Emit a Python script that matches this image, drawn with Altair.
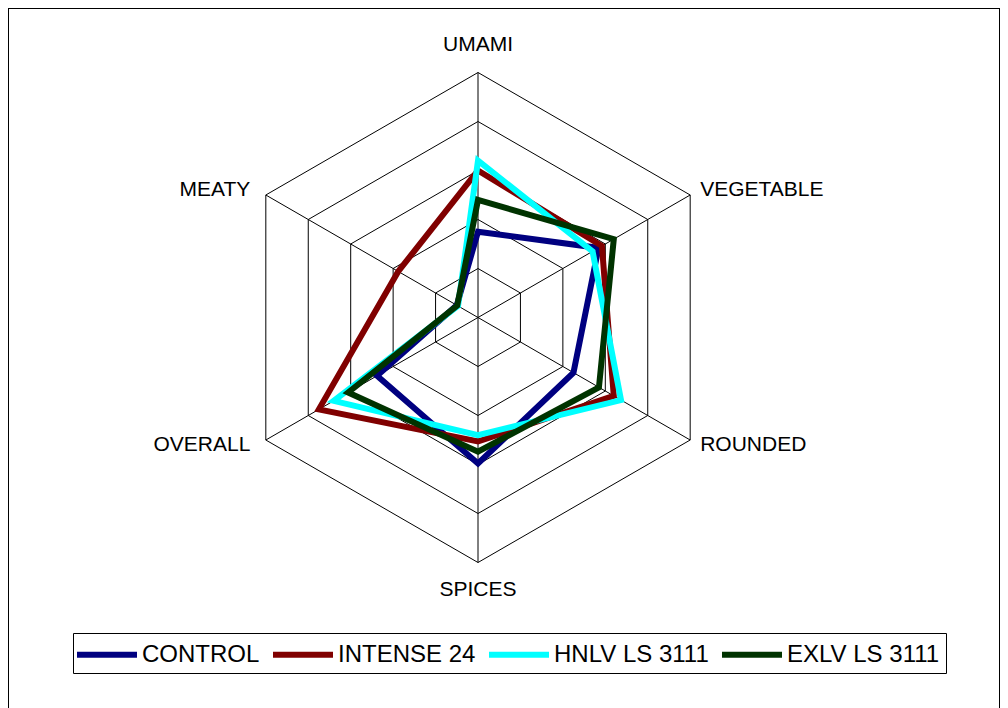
import altair as alt
import pandas as pd

# ---------------- data ----------------
categories = ["UMAMI", "VEGETABLE", "ROUNDED", "SPICES", "OVERALL", "MEATY"]
series = ["CONTROL", "INTENSE 24", "HNLV LS 3111", "EXLV LS 3111"]
control = [1.75, 2.84, 2.25, 2.98, 2.38, 0.50]
intense_24 = [3.00, 2.92, 3.20, 2.53, 3.75, 1.88]
hnlv_ls_3111 = [3.20, 2.70, 3.37, 2.40, 3.40, 0.47]
exlv_ls_3111 = [2.40, 3.20, 2.85, 2.74, 3.06, 0.49]
grid_levels = [1, 2, 3, 4, 5]
colors = ["#000080", "#800000", "#00FFFF", "#003300"]

# ---------------- tables ----------------
values = [control, intense_24, hnlv_ls_3111, exlv_ls_3111]
rows = []
for s, (name, vals) in enumerate(zip(series, values)):
    for i, (cat, v) in enumerate(zip(categories, vals)):
        rows.append({"series": name, "s": s, "idx": i, "category": cat, "value": v})
df = pd.DataFrame(rows)

grid_df = pd.DataFrame([{"ring": r, "idx": i, "value": r}
                        for r in grid_levels for i in range(len(categories))])
outer = max(grid_levels)
cat_df = pd.DataFrame({"idx": list(range(len(categories))), "category": categories})

# ---------------- geometry (scale set-up) ----------------
W, H = 992, 702          # plot area (page 8px margin)
CX, CY = 470, 309.5      # centre of radar inside the view
U = 49.0                 # pixels per unit
xs = alt.Scale(domain=[-CX / U, (W - CX) / U], zero=False, nice=False)
ys = alt.Scale(domain=[-(H - CY) / U, CY / U], zero=False, nice=False)

N = len(categories)
ang = f"PI/2 - datum.idx*2*PI/{N}"

def polar(chart, r_expr, xn="px", yn="py"):
    return chart.transform_calculate(
        ang=ang
    ).transform_calculate(
        **{xn: f"({r_expr})*cos(datum.ang)", yn: f"({r_expr})*sin(datum.ang)"}
    )

FONT = "Liberation Sans"

# grid hexagons
grid = polar(alt.Chart(grid_df), "datum.value").mark_line(
    interpolate="linear-closed", color="black", strokeWidth=1
).encode(
    x=alt.X("px:Q", scale=xs, axis=None),
    y=alt.Y("py:Q", scale=ys, axis=None),
    detail="ring:N",
    order="idx:Q",
)

# spokes
spokes = polar(alt.Chart(cat_df), str(outer), "ex", "ey").transform_calculate(
    ox="0", oy="0"
).mark_rule(color="black", strokeWidth=1).encode(
    x=alt.X("ox:Q", scale=xs, axis=None),
    y=alt.Y("oy:Q", scale=ys, axis=None),
    x2="ex:Q",
    y2="ey:Q",
)

# series lines
lines = polar(alt.Chart(df), "datum.value").mark_line(
    interpolate="linear-closed", strokeWidth=6, strokeJoin="miter"
).encode(
    x=alt.X("px:Q", scale=xs, axis=None),
    y=alt.Y("py:Q", scale=ys, axis=None),
    color=alt.Color(
        "series:N",
        scale=alt.Scale(domain=series, range=colors),
        sort=series,
        legend=alt.Legend(
            title=None, orient="none", legendX=65, legendY=625,
            direction="horizontal", symbolType="M-1.4,0H3.4", symbolSize=625,
            symbolStrokeWidth=6, labelFont=FONT, labelFontSize=24,
            labelColor="black", labelLimit=400, strokeColor="black",
            padding=6, columnPadding=1, labelOffset=32,
        ),
    ),
    order="idx:Q",
)

# category labels
def label_layer(idxs, r, align, dx):
    base = alt.Chart(cat_df).transform_filter(
        alt.FieldOneOfPredicate(field="idx", oneOf=idxs)
    )
    return polar(base, str(r), "lx", "ly").mark_text(
        align=align, baseline="middle", dx=dx, font=FONT, fontSize=21, color="black"
    ).encode(
        x=alt.X("lx:Q", scale=xs, axis=None),
        y=alt.Y("ly:Q", scale=ys, axis=None),
        text="category:N",
    )

lab_tb = label_layer([0, 3], outer + 0.56, "center", 0)
lab_r = label_layer([1, 2], outer + 0.2, "left", 1.5)
lab_l = label_layer([4, 5], outer + 0.2, "right", -7)

chart = alt.layer(grid, spokes, lines, lab_tb, lab_r, lab_l).properties(
    width=W, height=H, autosize=alt.AutoSizeParams(type="none"), padding=0
).configure_view(stroke="black", strokeWidth=2)

chart.save("out.html", embed_options={"renderer": "svg", "actions": False})
